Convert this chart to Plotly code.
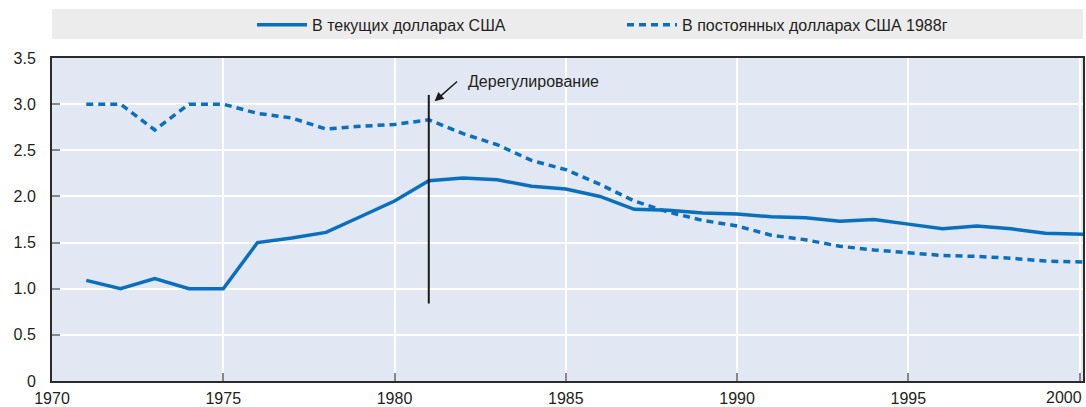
import plotly.graph_objects as go

years = list(range(1971, 2002))
current_usd = [1.09, 1.00, 1.11, 1.00, 1.00, 1.50, 1.55, 1.61, 1.78, 1.95,
               2.17, 2.20, 2.18, 2.11, 2.08, 2.00, 1.86, 1.85, 1.82, 1.81,
               1.78, 1.77, 1.73, 1.75, 1.70, 1.65, 1.68, 1.65, 1.60, 1.59, 1.58]
constant_usd = [3.00, 3.00, 2.72, 3.00, 3.00, 2.90, 2.85, 2.73, 2.76, 2.78,
                2.83, 2.68, 2.56, 2.39, 2.29, 2.13, 1.95, 1.83, 1.74, 1.68,
                1.58, 1.53, 1.46, 1.42, 1.39, 1.36, 1.35, 1.33, 1.30, 1.29, 1.28]
series_names = ["В текущих долларах США", "В постоянных долларах США 1988г"]

x_tick_vals = [1970, 1975, 1980, 1985, 1990, 1995, 2000]
x_tick_text = ["1970", "1975", "1980", "1985", "1990", "1995", ""]
y_tick_vals = [0, 0.5, 1.0, 1.5, 2.0, 2.5, 3.0, 3.5]
y_tick_text = ["0", "0.5", "1.0", "1.5", "2.0", "2.5", "3.0", "3.5"]

event_year = 1981
event_label = "Дерегулирование"
event_span = [0.84, 3.1]

BLUE = "#0a6fbd"
TXT = "#231f20"
FONT = "Liberation Sans, Arial, sans-serif"

fig = go.Figure()
fig.add_trace(go.Scatter(x=years, y=current_usd, name=series_names[0], mode="lines",
                         line=dict(color=BLUE, width=3.5)))
fig.add_trace(go.Scatter(x=years, y=constant_usd, name=series_names[1], mode="lines",
                         line=dict(color=BLUE, width=3.5, dash="7px,5px")))

# vertical event marker
fig.add_trace(go.Scatter(x=[event_year, event_year], y=event_span, mode="lines",
                         line=dict(color="#1a1a1a", width=2), showlegend=False,
                         hoverinfo="skip"))

# legend background band
fig.add_shape(type="rect", xref="paper", yref="paper", x0=0, x1=1,
              y0=1.059, y1=1.152, fillcolor="#ececec", line=dict(width=0), layer="below")

fig.add_annotation(x=event_year + 0.17, y=3.03, ax=event_year + 0.87, ay=3.26,
                   xref="x", yref="y", axref="x", ayref="y", text="",
                   showarrow=True, arrowhead=2, arrowsize=1.2, arrowwidth=1.5,
                   arrowcolor="#1a1a1a")
fig.add_annotation(x=event_year + 1.08, y=3.245, xref="x", yref="y", text=event_label,
                   showarrow=False, xanchor="left", yanchor="middle",
                   font=dict(size=16, color=TXT, family=FONT))
fig.add_annotation(x=1, y=0, xref="paper", yref="paper", text="2000",
                   showarrow=False, xanchor="right", yanchor="top", yshift=-7,
                   borderpad=0,
                   font=dict(size=16, color=TXT, family=FONT))

fig.update_layout(
    width=1086, height=407,
    margin=dict(l=52, r=3, t=58, b=26, autoexpand=False),
    paper_bgcolor="white", plot_bgcolor="#e1e7f3",
    font=dict(family=FONT, size=16, color=TXT),
    showlegend=True,
    legend=dict(orientation="h", x=0.194, xanchor="left", y=1.103, yanchor="middle",
                bgcolor="rgba(0,0,0,0)", entrywidth=305, entrywidthmode="pixels",
                itemwidth=50,
                font=dict(size=16, color=TXT, family=FONT), itemclick=False),
    xaxis=dict(range=[1970, 2000.1], tickvals=x_tick_vals, ticktext=x_tick_text,
               showgrid=True, gridcolor="white", gridwidth=1.5,
               ticks="inside", ticklen=8, tickcolor="#888", tickwidth=1.5,
               showline=True, linecolor="#2b2b2b", linewidth=2, mirror=True,
               zeroline=False, ticklabelstandoff=2, automargin=False),
    yaxis=dict(range=[0, 3.5], tickvals=y_tick_vals, ticktext=y_tick_text,
               showgrid=True, gridcolor="white", gridwidth=1.5,
               ticks="inside", ticklen=8, tickcolor="#888", tickwidth=1.5,
               showline=True, linecolor="#2b2b2b", linewidth=2, mirror=True,
               zeroline=False, ticklabelstandoff=11, automargin=False),
)

fig.write_html("out.html", config={"displayModeBar": False},
               post_script="document.body.style.margin='0';document.body.style.overflow='hidden';")
